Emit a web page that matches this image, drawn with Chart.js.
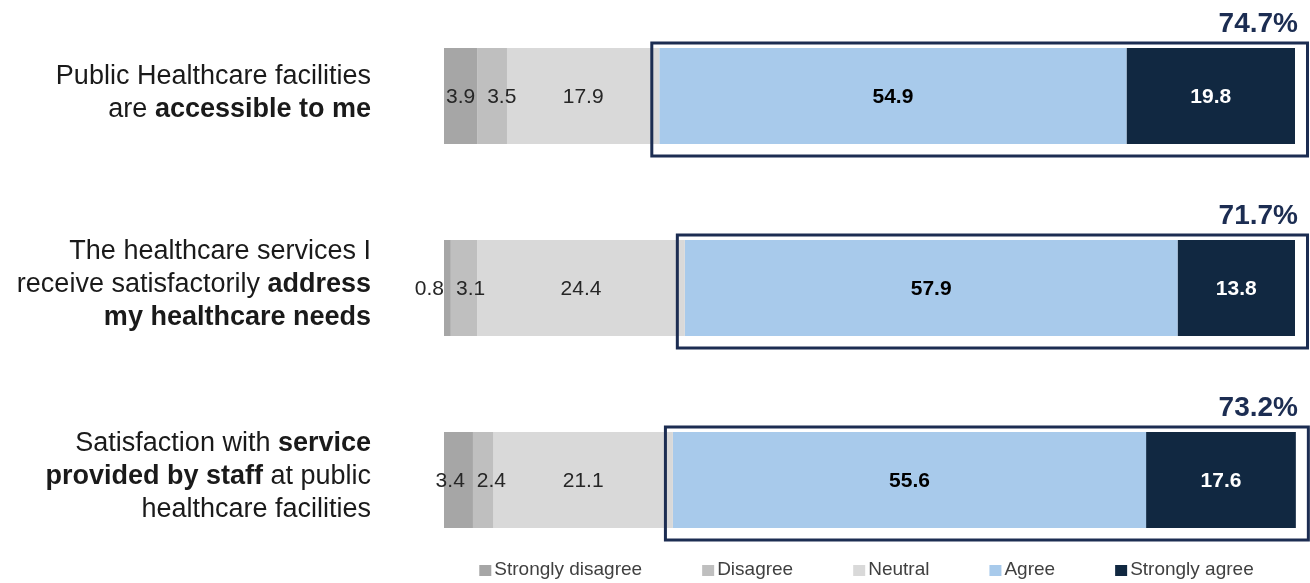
<!DOCTYPE html>
<html>
<head>
<meta charset="utf-8">
<script src="https://cdn.jsdelivr.net/npm/chart.js@4"></script>
<style>
  html, body { margin: 0; padding: 0; background: #fff; }
  #wrap { width: 1310px; height: 583px; position: relative; }
</style>
</head>
<body>
<div id="wrap"><canvas id="visualization"></canvas></div>
<script>
// Survey statements (y categories)
var categories = [
    'Public Healthcare facilities are accessible to me',
    'The healthcare services I receive satisfactorily address my healthcare needs',
    'Satisfaction with service provided by staff at public healthcare facilities'
];
// Same statements split into lines of [text, bold] runs
var categoryLines = [
    [[['Public Healthcare facilities', false]],
     [['are ', false], ['accessible to me', true]]],
    [[['The healthcare services I', false]],
     [['receive satisfactorily ', false], ['address', true]],
     [['my healthcare needs', true]]],
    [[['Satisfaction with ', false], ['service', true]],
     [['provided by staff', true], [' at public', false]],
     [['healthcare facilities', false]]]
];

var seriesNames = ['Strongly disagree', 'Disagree', 'Neutral', 'Agree', 'Strongly agree'];
var stronglyDisagree = [3.9, 0.8, 3.4];
var disagree = [3.5, 3.1, 2.4];
var neutral = [17.9, 24.4, 21.1];
var agree = [54.9, 57.9, 55.6];
var stronglyAgree = [19.8, 13.8, 17.6];

var seriesColors = ['#a6a6a6', '#bfbfbf', '#d9d9d9', '#a8caeb', '#112841'];
var valueColors = ['#262626', '#262626', '#262626', '#000000', '#ffffff'];
var FONT = '"Liberation Sans", Arial, sans-serif';
var NAVY = '#1c2d52';

var seriesValues = [stronglyDisagree, disagree, neutral, agree, stronglyAgree];

// Values, agree boxes, totals, statement labels and legend
var annotate = {
    id: 'annotate',
    afterDatasetsDraw: function(chart) {
        var ctx = chart.ctx;
        var area = chart.chartArea;
        ctx.save();

        // segment values: centred, then nudged apart where the small ones collide
        ctx.textBaseline = 'middle';
        ctx.textAlign = 'center';
        categories.forEach(function(c, i) {
            var labels = seriesValues.map(function(vals, d) {
                var el = chart.getDatasetMeta(d).data[i];
                ctx.font = (d >= 3 ? 'bold ' : '') + '21px ' + FONT;
                var txt = vals[i].toFixed(1);
                var w = ctx.measureText(txt).width;
                var segW = Math.abs(el.x - el.base);
                var cx = (el.x + el.base) / 2;
                var fixed = segW >= w;
                if (d === 0 && segW < w / 2) {
                    // too thin to hold it: put it just left of the bar
                    cx = el.base - w / 2;
                    fixed = true;
                }
                return { txt: txt, w: w, cx: cx, y: el.y, fixed: fixed, d: d };
            });
            var minGap = 12;
            for (var k = 1; k < labels.length; k++) {
                var a = labels[k - 1], b = labels[k];
                var need = (a.w + b.w) / 2 + minGap - (b.cx - a.cx);
                if (need > 0) {
                    if (a.fixed) {
                        b.cx += need;
                    } else {
                        a.cx -= need / 2;
                        b.cx += need / 2;
                    }
                }
            }
            labels.forEach(function(l) {
                ctx.font = (l.d >= 3 ? 'bold ' : '') + '21px ' + FONT;
                ctx.fillStyle = valueColors[l.d];
                ctx.fillText(l.txt, l.cx, l.y + 1);
            });
        });

        // boxes round agree + strongly agree, with the combined total above
        var agreeMeta = chart.getDatasetMeta(3);
        var saMeta = chart.getDatasetMeta(4);
        agreeMeta.data.forEach(function(el, i) {
            var sa = saMeta.data[i];
            var top = el.y - el.height / 2;
            var bottom = el.y + el.height / 2;
            var left = el.base - 7.5;
            var right = sa.x + 12.5;
            ctx.strokeStyle = NAVY;
            ctx.lineWidth = 3;
            ctx.strokeRect(left, top - 5, right - left, bottom + 12 - (top - 5));

            var total = (agree[i] + stronglyAgree[i]).toFixed(1) + '%';
            ctx.font = 'bold 28px ' + FONT;
            ctx.fillStyle = NAVY;
            ctx.textAlign = 'right';
            ctx.textBaseline = 'alphabetic';
            ctx.fillText(total, 1298, top - 16);
        });

        // statement labels on the left
        var yScale = chart.scales.y;
        var lineH = 33;
        ctx.fillStyle = '#1a1a1a';
        ctx.textBaseline = 'middle';
        ctx.textAlign = 'left';
        categoryLines.forEach(function(lines, i) {
            var cy = yScale.getPixelForValue(i) - 3;
            var y0 = cy - (lines.length - 1) * lineH / 2;
            lines.forEach(function(runs, k) {
                var widths = runs.map(function(r) {
                    ctx.font = (r[1] ? 'bold ' : '') + '27px ' + FONT;
                    return ctx.measureText(r[0]).width;
                });
                var x = 371 - widths.reduce(function(a, b) { return a + b; }, 0);
                runs.forEach(function(r, j) {
                    ctx.font = (r[1] ? 'bold ' : '') + '27px ' + FONT;
                    ctx.fillText(r[0], x, y0 + k * lineH);
                    x += widths[j];
                });
            });
        });

        // legend along the bottom, centred under the bars
        ctx.font = '19px ' + FONT;
        var box = 12, gapText = 3, gapItem = 60;
        var itemW = seriesNames.map(function(n) { return box + gapText + ctx.measureText(n).width; });
        var totalW = itemW.reduce(function(a, b) { return a + b; }, 0) + gapItem * (seriesNames.length - 1);
        var lx = (area.left + area.right) / 2 - totalW / 2 - 3;
        var ly = 570;
        seriesNames.forEach(function(n, k) {
            ctx.fillStyle = seriesColors[k];
            ctx.fillRect(lx, ly - 5, box, 11);
            ctx.fillStyle = '#404040';
            ctx.fillText(n, lx + box + gapText, ly);
            lx += itemW[k] + gapItem;
        });

        ctx.restore();
    }
};

var ctx = document.getElementById('visualization').getContext('2d');
var myChart = new Chart(ctx, {
    type: 'bar',
    data: {
        labels: categories,
        datasets: seriesNames.map(function(name, d) {
            return {
                label: name,
                data: seriesValues[d],
                backgroundColor: seriesColors[d],
                borderWidth: 0,
                categoryPercentage: 0.5,
                barPercentage: 1.0,
                clip: false
            };
        })
    },
    options: {
        indexAxis: 'y',
        responsive: true,
        maintainAspectRatio: false,
        animation: false,
        layout: { padding: { left: 444, right: 15, top: 0, bottom: 7 } },
        scales: {
            x: { stacked: true, min: 0, max: 100, display: false },
            y: { stacked: true, display: false }
        },
        plugins: {
            legend: { display: false },
            tooltip: { enabled: false }
        }
    },
    plugins: [annotate]
});
</script>
</body>
</html>
